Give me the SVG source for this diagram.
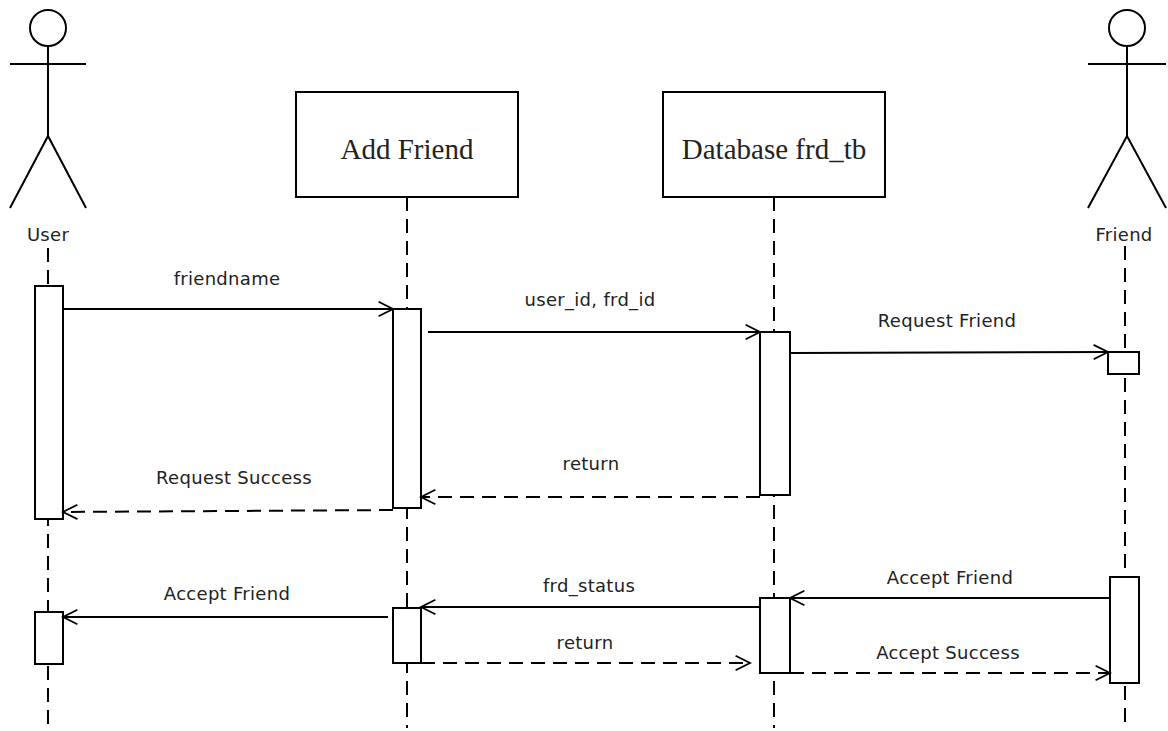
<svg xmlns="http://www.w3.org/2000/svg" width="1168" height="731" viewBox="0 0 1168 731">
<defs>
<marker id="open" viewBox="0 0 20 20" refX="18" refY="10" markerWidth="18" markerHeight="18" markerUnits="userSpaceOnUse" orient="auto">
<path d="M2,2 L18,10 L2,18" fill="none" stroke="#000" stroke-width="2"/>
</marker>
<style>
.ln{stroke:#000;stroke-width:2;fill:none}
.life{stroke:#000;stroke-width:2;stroke-dasharray:14 8;fill:none}
.act{fill:#fff;stroke:#000;stroke-width:2}
.box{fill:#fff;stroke:#000;stroke-width:2}
.msg{stroke:#000;stroke-width:2;fill:none;marker-end:url(#open)}
.ret{stroke:#000;stroke-width:2;fill:none;stroke-dasharray:14 8;marker-end:url(#open)}
.lbl{font-family:"DejaVu Sans","Liberation Sans",sans-serif;font-size:18px;letter-spacing:0.3px;fill:#222;text-anchor:middle}
.ttl{font-family:"Liberation Serif","Times New Roman",serif;font-size:29px;fill:#222;text-anchor:middle}
</style>
</defs>
<rect width="1168" height="731" fill="#fff"/>
<g id="lifelines">
<line class="life" x1="48" y1="248" x2="48" y2="728"/>
<line class="life" x1="407" y1="197" x2="407" y2="728"/>
<line class="life" x1="774" y1="197" x2="774" y2="728"/>
<line class="life" x1="1125" y1="246" x2="1125" y2="728"/>
</g>
<g id="user">
<circle class="ln" cx="48" cy="28" r="18"/>
<line class="ln" x1="48" y1="46" x2="48" y2="136"/>
<line class="ln" x1="10" y1="64" x2="86" y2="64"/>
<polyline class="ln" points="10,208 48,136 86,208"/>
<text class="lbl" x="48" y="241">User</text>
<rect class="act" x="35" y="286" width="28" height="233"/>
<rect class="act" x="35" y="612" width="28" height="52"/>
</g>
<g id="addfriend">
<rect class="box" x="296" y="92" width="222" height="105"/>
<text class="ttl" x="407" y="159">Add Friend</text>
<rect class="act" x="393" y="309" width="28" height="199"/>
<rect class="act" x="393" y="608" width="28" height="55"/>
</g>
<g id="database">
<rect class="box" x="663" y="92" width="222" height="105"/>
<text class="ttl" x="774" y="159">Database frd_tb</text>
<rect class="act" x="760" y="332" width="30" height="163"/>
<rect class="act" x="760" y="598" width="30" height="75"/>
</g>
<g id="friend">
<circle class="ln" cx="1127" cy="28" r="18"/>
<line class="ln" x1="1127" y1="46" x2="1127" y2="136"/>
<line class="ln" x1="1088" y1="64" x2="1166" y2="64"/>
<polyline class="ln" points="1088,208 1127,136 1166,208"/>
<text class="lbl" x="1124" y="241">Friend</text>
<rect class="act" x="1108" y="352" width="31" height="22"/>
<rect class="act" x="1110" y="577" width="29" height="106"/>
</g>
<g id="connectors">
<line class="msg" x1="63" y1="309" x2="393" y2="309"/>
<text class="lbl" x="227" y="285">friendname</text>
<line class="msg" x1="428" y1="332" x2="760" y2="332"/>
<text class="lbl" x="590" y="306">user_id, frd_id</text>
<line class="msg" x1="790" y1="353" x2="1108" y2="352"/>
<text class="lbl" x="947" y="327">Request Friend</text>
<line class="ret" x1="760" y1="497" x2="421" y2="497"/>
<text class="lbl" x="591" y="470">return</text>
<line class="ret" x1="393" y1="510" x2="63" y2="512"/>
<text class="lbl" x="234" y="484">Request Success</text>
<line class="msg" x1="1110" y1="598" x2="790" y2="598"/>
<text class="lbl" x="950" y="584">Accept Friend</text>
<line class="msg" x1="760" y1="607" x2="421" y2="607"/>
<text class="lbl" x="589" y="592">frd_status</text>
<line class="msg" x1="388" y1="617" x2="63" y2="617"/>
<text class="lbl" x="227" y="600">Accept Friend</text>
<line class="ret" x1="421" y1="663" x2="750" y2="663"/>
<text class="lbl" x="585" y="649">return</text>
<line class="ret" x1="790" y1="673" x2="1110" y2="673"/>
<text class="lbl" x="948" y="659">Accept Success</text>
</g>
</svg>
